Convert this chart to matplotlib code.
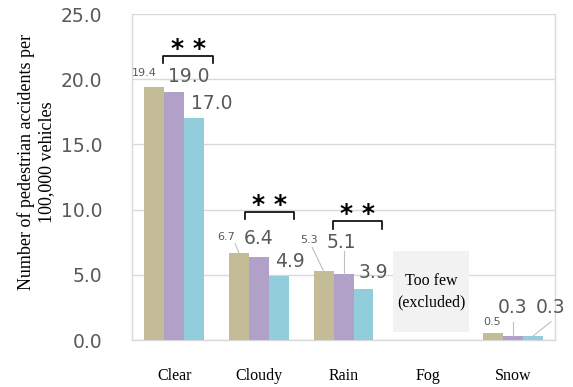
import matplotlib
matplotlib.use("Agg")
import matplotlib.pyplot as plt
import numpy as np

categories = ["Clear", "Cloudy", "Rain", "Fog", "Snow"]
series_a = [19.4, 6.7, 5.3, None, 0.5]
series_b = [19.0, 6.4, 5.1, None, 0.3]
series_c = [17.0, 4.9, 3.9, None, 0.3]
y_ticks = [0.0, 5.0, 10.0, 15.0, 20.0, 25.0]
significant = ["Clear", "Cloudy", "Rain"]

colors = ["#C4BC96", "#B1A0C7", "#92CDDC"]
label_color = "#595959"
grid_color = "#D9D9D9"

fig = plt.figure(figsize=(5.73, 3.87), dpi=100)
ax = fig.add_axes([0.230, 0.1214, 0.739, 0.8424])

x = np.arange(len(categories))
w = 0.236
offsets = [-w, 0.0, w]
all_series = [series_a, series_b, series_c]

for s, off, col in zip(all_series, offsets, colors):
    xs = [xi + off for xi, v in zip(x, s) if v is not None]
    vs = [v for v in s if v is not None]
    ax.bar(xs, vs, width=w, color=col, zorder=3)

ax.set_ylim(0, 25)
ax.set_xlim(-0.5, len(categories) - 0.5)
ax.set_yticks(y_ticks)
ax.set_yticklabels([f"{t:.1f}" for t in y_ticks], color=label_color,
                   fontsize=13.5, family="DejaVu Sans")
ax.set_xticks(x)
ax.set_xticklabels(categories, family="Liberation Serif", fontsize=11.5)
ax.tick_params(axis="y", length=0, pad=21)
ax.tick_params(axis="x", length=0, pad=20)
ax.yaxis.grid(True, color=grid_color, lw=1, zorder=0)
for sp in ax.spines.values():
    sp.set_color(grid_color)
    sp.set_linewidth(1)
ax.spines["top"].set_visible(False)

ax.set_ylabel("Number of pedestrian accidents per\n100,000 vehicles",
              family="Liberation Serif", fontsize=13, linespacing=1.25)
ax.yaxis.set_label_coords(-0.18, 0.546)

# value labels: (category, series, dx, y, size, leader)
small, big = 8, 13.5
label_specs = [
    (0, 0, -0.35, 20.5, small, None),
    (0, 1, 0.17, 20.2, big, None),
    (0, 2, 0.45, 18.1, big, None),
    (1, 0, -0.39, 7.9, small, (-0.28, 7.4)),
    (1, 1, 0.0, 7.8, big, None),
    (1, 2, 0.37, 6.0, big, None),
    (2, 0, -0.41, 7.7, small, (-0.37, 7.1)),
    (2, 1, -0.02, 7.5, big, (0.0, 6.8)),
    (2, 2, 0.35, 5.2, big, None),
    (4, 0, -0.25, 1.4, small, None),
    (4, 1, 0.0, 2.5, big, (0.0, 1.4)),
    (4, 2, 0.45, 2.5, big, (0.45, 1.4)),
]
for ci, si, dx, ty, fs, leader in label_specs:
    val = all_series[si][ci]
    ax.text(ci + dx, ty, f"{val:.1f}", ha="center", va="center",
            fontsize=fs, color=label_color, family="DejaVu Sans",
            clip_on=False, zorder=5)
    if leader is not None:
        bx = ci + offsets[si]
        ax.plot([ci + leader[0], bx], [leader[1], val], color="#BFBFBF",
                lw=0.8, zorder=4, clip_on=False)

# significance brackets
brackets = {"Clear": (-0.13, 0.46, 21.8), "Cloudy": (-0.165, 0.41, 9.8),
            "Rain": (-0.13, 0.46, 9.1)}
for name in significant:
    ci = categories.index(name)
    x0, x1, top = brackets[name]
    ax.plot([ci + x0, ci + x0, ci + x1, ci + x1],
            [top - 0.55, top, top, top - 0.55], color="black", lw=1.2,
            zorder=5, clip_on=False)
    ax.text(ci + (x0 + x1) / 2, top + 0.55, "* *", ha="center", va="center",
            fontsize=18, fontweight="bold", color="black",
            family="DejaVu Sans", zorder=5)

# excluded category box
fi = categories.index("Fog")
ax.add_patch(plt.Rectangle((fi - 0.41, 0.6), 0.89, 6.2, facecolor="#F2F2F2",
                           edgecolor="none", zorder=2))
ax.text(fi + 0.035, 3.7, "Too few\n(excluded)", ha="center", va="center",
        family="Liberation Serif", fontsize=11.5, linespacing=1.5, zorder=3)

fig.savefig("out.png", dpi=100)
